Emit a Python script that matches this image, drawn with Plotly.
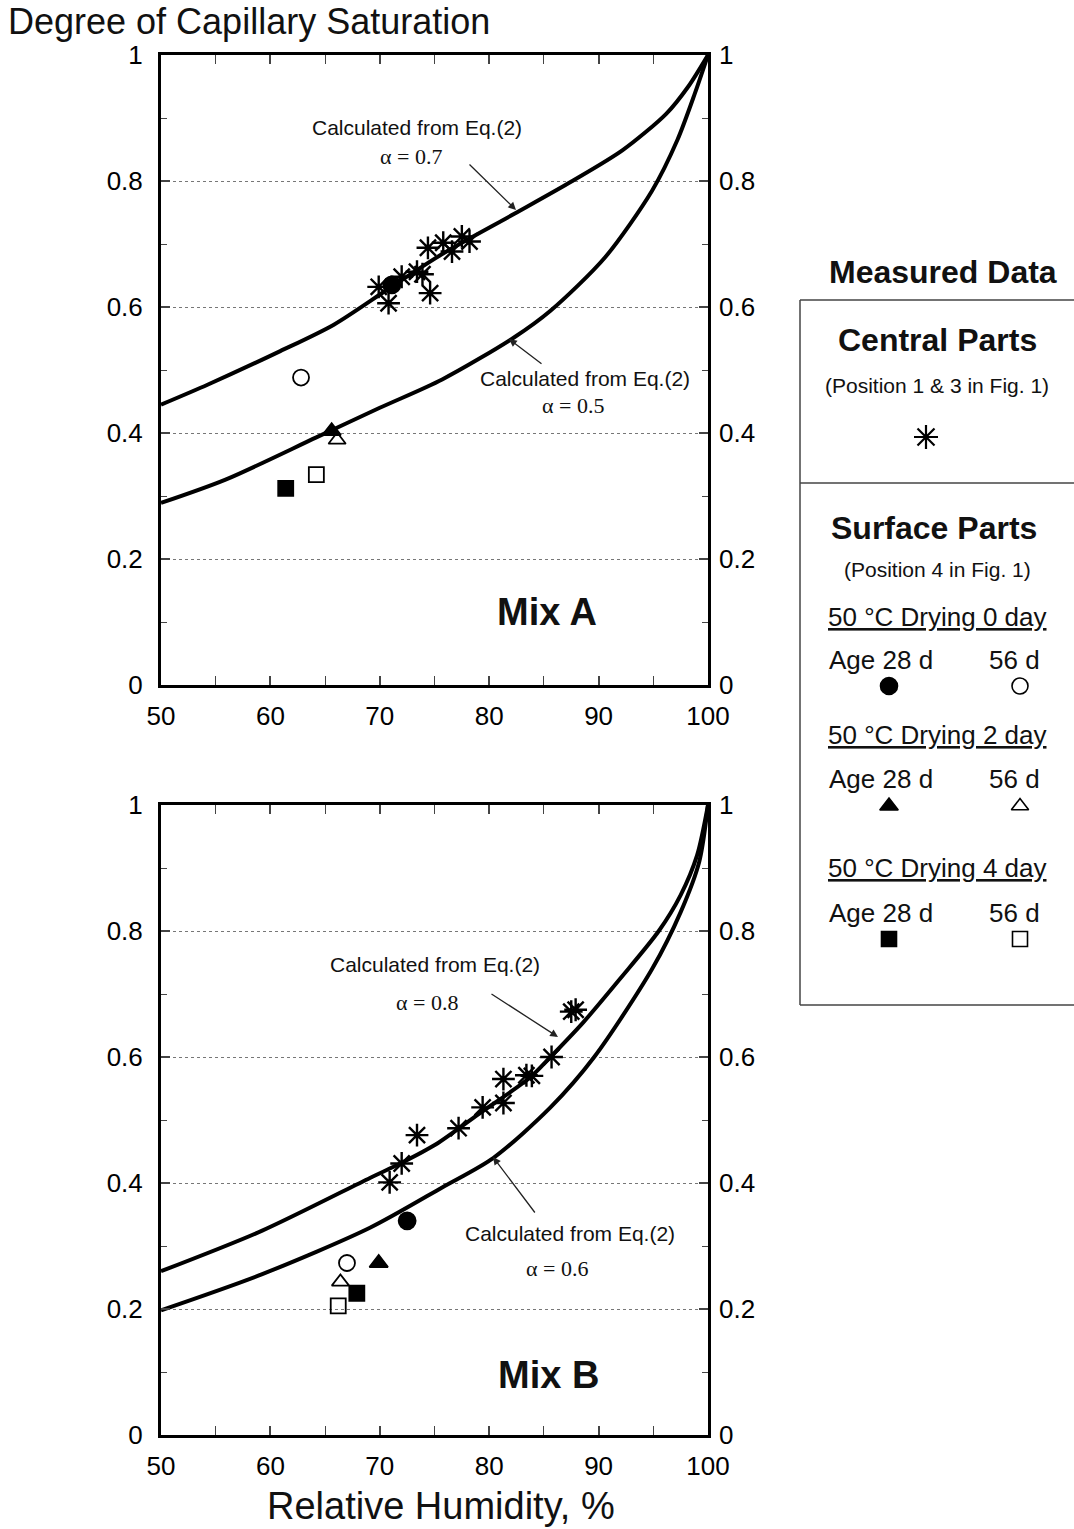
import plotly.graph_objects as go

W, H = 1074, 1529

# ---------------- data ----------------
# Mix A: calculated curves
rh_A_a07 = [50, 54.3, 60.9, 65.8, 70.8, 75.7, 82.3, 87.6, 92.2, 96.2, 98.2, 100]
sat_A_a07 = [0.445, 0.477, 0.530, 0.572, 0.629, 0.684, 0.748, 0.800, 0.849, 0.907, 0.950, 1.0]
rh_A_a05 = [50, 55.9, 64.2, 70.0, 75.7, 82.3, 85.6, 90.6, 94.9, 97.2, 98.8, 100]
sat_A_a05 = [0.289, 0.326, 0.393, 0.440, 0.485, 0.552, 0.594, 0.679, 0.785, 0.865, 0.939, 1.0]

# Mix A: measured, central parts
rh_A_central = [69.9, 70.8, 72.0, 73.4, 73.9, 74.6, 74.4, 75.8, 76.6, 77.5, 78.2]
sat_A_central = [0.632, 0.606, 0.648, 0.656, 0.652, 0.622, 0.694, 0.702, 0.688, 0.712, 0.704]
# Mix A: surface parts  [dry0 28d, dry0 56d, dry2 28d, dry2 56d, dry4 28d, dry4 56d]
rh_A_surface = [71.1, 62.8, 65.6, 66.1, 61.4, 64.2]
sat_A_surface = [0.635, 0.488, 0.403, 0.389, 0.312, 0.334]

# Mix B: calculated curves
rh_B_a08 = [50, 59.2, 69.1, 72.0, 75.1, 79.0, 83.7, 85.6, 88.6, 92.0, 95.5, 97.5, 99.0, 100]
sat_B_a08 = [0.260, 0.324, 0.408, 0.432, 0.461, 0.509, 0.567, 0.600, 0.655, 0.725, 0.800, 0.857, 0.920, 1.0]
rh_B_a06 = [50, 59.2, 69.1, 75.7, 80.4, 85.6, 89.6, 94.9, 97.5, 99.2, 100]
sat_B_a06 = [0.198, 0.255, 0.329, 0.393, 0.440, 0.520, 0.600, 0.740, 0.830, 0.910, 1.0]

# Mix B: measured, central parts
rh_B_central = [70.9, 72.0, 73.4, 77.2, 79.4, 81.3, 81.3, 83.4, 83.9, 85.7, 87.5, 87.9]
sat_B_central = [0.401, 0.431, 0.476, 0.487, 0.520, 0.527, 0.565, 0.571, 0.570, 0.600, 0.672, 0.675]
# Mix B: surface parts
rh_B_surface = [72.5, 67.0, 69.9, 66.4, 67.9, 66.2]
sat_B_surface = [0.340, 0.273, 0.273, 0.243, 0.225, 0.205]

surface_symbols = ["circle", "circle-open", "triangle-up", "triangle-up-open", "square", "square-open"]
surface_sizes = [17, 16, 16, 15, 15, 15]

x_ticks = [50, 60, 70, 80, 90, 100]
y_ticks = [0, 0.2, 0.4, 0.6, 0.8, 1]
y_ticktext = ["0", "0.2", "0.4", "0.6", "0.8", "1"]

FONT = "Liberation Sans, Arial, sans-serif"
SERIF = "Liberation Serif, Times New Roman, serif"


def py(p):
    return 1 - p / H


fig = go.Figure()

panels = [
    dict(xa="x", ya="y", yr="y3",
         curves=[(rh_A_a07, sat_A_a07), (rh_A_a05, sat_A_a05)],
         central=(rh_A_central, sat_A_central),
         surface=(rh_A_surface, sat_A_surface)),
    dict(xa="x2", ya="y2", yr="y4",
         curves=[(rh_B_a08, sat_B_a08), (rh_B_a06, sat_B_a06)],
         central=(rh_B_central, sat_B_central),
         surface=(rh_B_surface, sat_B_surface)),
]

for p in panels:
    for cx, cy in p["curves"]:
        fig.add_trace(go.Scatter(x=cx, y=cy, mode="lines", xaxis=p["xa"], yaxis=p["ya"],
                                 line=dict(color="black", width=4, shape="spline", smoothing=0.8),
                                 showlegend=False, hoverinfo="skip"))
    fig.add_trace(go.Scatter(x=p["central"][0], y=p["central"][1], mode="markers",
                             xaxis=p["xa"], yaxis=p["ya"],
                             marker=dict(symbol="asterisk-open", size=19, color="black",
                                         line=dict(color="black", width=2.4)),
                             showlegend=False))
    sx, sy = p["surface"]
    for i in range(len(sx)):
        fig.add_trace(go.Scatter(x=[sx[i]], y=[sy[i]], mode="markers",
                                 xaxis=p["xa"], yaxis=p["ya"],
                                 marker=dict(symbol=surface_symbols[i], size=surface_sizes[i],
                                             color="black", line=dict(color="black", width=1.8)),
                                 showlegend=False))
    # dummy trace for right-side label axis
    fig.add_trace(go.Scatter(x=[None], y=[None], xaxis=p["xa"], yaxis=p["yr"],
                             showlegend=False, hoverinfo="skip"))

# ---- legend symbols drawn on a full-page pixel axis ----
legend_sym = ["asterisk-open"] + surface_symbols
legend_size = [20, 17, 16, 16, 15, 15, 15]
legend_pos_x = [926, 889, 1020, 889, 1020, 889, 1020]
legend_pos_y = [437, 686, 686, 806, 806, 939, 939]
for i in range(len(legend_sym)):
    fig.add_trace(go.Scatter(x=[legend_pos_x[i]], y=[legend_pos_y[i]], mode="markers",
                             xaxis="x3", yaxis="y5",
                             marker=dict(symbol=legend_sym[i], size=legend_size[i], color="black",
                                         line=dict(color="black", width=2.2 if i == 0 else 1.6)),
                             showlegend=False, hoverinfo="skip"))

xdom = [161 / W, 708 / W]
common_x = dict(range=[50, 100], tickvals=x_ticks, ticks="inside", ticklen=9, tickwidth=1.5,
                showline=True, linewidth=3, linecolor="black", mirror="allticks",
                showgrid=False, zeroline=False, domain=xdom,
                tickfont=dict(size=26, family=FONT, color="black"), ticklabelstandoff=6,
                minor=dict(dtick=5, ticks="inside", ticklen=6, tickwidth=1.2, showgrid=False))
common_y = dict(range=[0, 1], tickvals=y_ticks, ticktext=y_ticktext, ticks="inside", ticklen=9,
                tickwidth=1.5, showline=True, linewidth=3, linecolor="black", mirror="allticks",
                showgrid=True, gridcolor="#777", griddash="dot", gridwidth=1, zeroline=False,
                tickfont=dict(size=26, family=FONT, color="black"), ticklabelstandoff=10,
                minor=dict(dtick=0.1, ticks="inside", ticklen=6, tickwidth=1.2, showgrid=False))
right_y = dict(range=[0, 1], tickvals=y_ticks, ticktext=y_ticktext, ticks="", side="right",
               showline=False, showgrid=False, zeroline=False,
               tickfont=dict(size=26, family=FONT, color="black"), ticklabelstandoff=10)

fig.update_layout(
    width=W, height=H, margin=dict(l=0, r=0, t=0, b=0),
    paper_bgcolor="white", plot_bgcolor="rgba(0,0,0,0)",
    template="none", showlegend=False,
    xaxis=dict(anchor="y", **common_x),
    yaxis=dict(anchor="x", domain=[py(685), py(55)], **common_y),
    yaxis3=dict(anchor="x", overlaying="y", **right_y),
    xaxis2=dict(anchor="y2", **common_x),
    yaxis2=dict(anchor="x2", domain=[py(1435), py(805)], **common_y),
    yaxis4=dict(anchor="x2", overlaying="y2", **right_y),
    xaxis3=dict(anchor="y5", domain=[0, 1], range=[0, W], visible=False, fixedrange=True),
    yaxis5=dict(anchor="x3", domain=[0, 1], range=[H, 0], visible=False, fixedrange=True),
)

ann = []


def txt(x, y, s, size, bold=False, family=FONT, xanchor="center"):
    ann.append(dict(x=x, y=y, xref="x3", yref="y5", text=("<b>%s</b>" % s) if bold else s,
                    showarrow=False, xanchor=xanchor, yanchor="middle",
                    font=dict(size=size, family=family, color="#111")))


def arrow(tx, ty, hx, hy):
    ann.append(dict(x=hx, y=hy, ax=tx, ay=ty, xref="x3", yref="y5", axref="x3", ayref="y5",
                    text="", showarrow=True, arrowhead=2, arrowsize=1.2, arrowwidth=1.3,
                    arrowcolor="#222"))


txt(6, 21, "Degree of Capillary Saturation", 36, xanchor="left")
txt(441, 1506, "Relative Humidity, %", 38)
txt(547, 612, "Mix A", 38, bold=True)
txt(548, 1375, "Mix B", 38, bold=True)

txt(417, 127, "Calculated from Eq.(2)", 21)
txt(411, 156, "α = 0.7", 22, family=SERIF)
arrow(468, 163, 516, 210)
txt(585, 378, "Calculated from Eq.(2)", 21)
txt(573, 405, "α = 0.5", 22, family=SERIF)
arrow(543, 365, 509, 339)

txt(435, 964, "Calculated from Eq.(2)", 21)
txt(427, 1002, "α = 0.8", 22, family=SERIF)
arrow(490, 993, 558, 1037)
txt(570, 1233, "Calculated from Eq.(2)", 21)
txt(557, 1268, "α = 0.6", 22, family=SERIF)
arrow(536, 1214, 493, 1157)

# legend box texts
txt(943, 272, "Measured Data", 32, bold=True)
txt(937, 340, "Central Parts", 32, bold=True)
txt(937, 385, "(Position 1 & 3 in Fig. 1)", 21)
txt(934, 528, "Surface Parts", 32, bold=True)
txt(937, 569, "(Position 4 in Fig. 1)", 21)
for yy, label in [(617, "0"), (735, "2"), (868, "4")]:
    txt(937, yy, "<u>50 °C Drying %s day</u>" % label, 26)
for yy in [660, 779, 913]:
    txt(881, yy, "Age 28 d", 26)
    txt(1014, yy, "56 d", 26)

fig.update_layout(annotations=ann)

shape_lines = [(800, 300, 1074, 300), (800, 483, 1074, 483), (800, 1005, 1074, 1005),
               (800, 300, 800, 1005)]
fig.update_layout(shapes=[dict(type="line", xref="x3", yref="y5", x0=a, y0=b, x1=c, y1=d,
                               line=dict(color="#444", width=1.5)) for a, b, c, d in shape_lines])

fig.write_html("out.html", config={"displayModeBar": False},
               post_script="document.body.style.margin='0px';document.body.style.overflow='hidden';")
